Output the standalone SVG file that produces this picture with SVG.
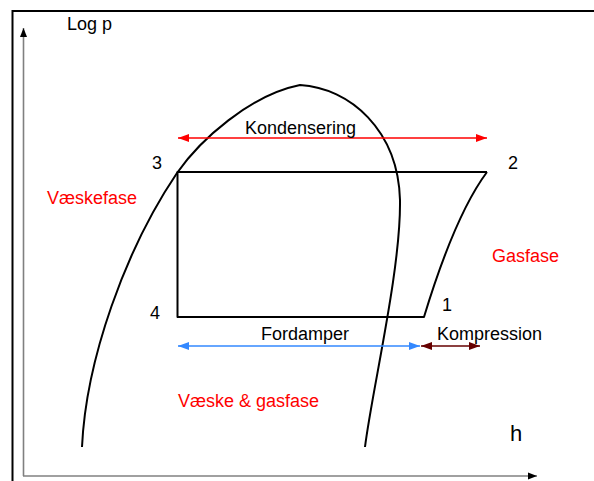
<svg xmlns="http://www.w3.org/2000/svg" width="594" height="481" viewBox="0 0 594 481">
<style>
text{font-family:"Liberation Sans",Arial,sans-serif;font-size:18px;fill:#000}
.red{fill:#ff0000}
.curve{fill:none;stroke:#000;stroke-width:2;stroke-linejoin:round}
.axis{stroke:#808080;stroke-width:1.6;fill:none}
</style>
<defs>
<marker id="ar" markerUnits="userSpaceOnUse" markerWidth="12" markerHeight="10" refX="11" refY="5" orient="auto-start-reverse"><path d="M0,1 L11,5 L0,9 Z" fill="#ff0000"/></marker>
<marker id="ab" markerUnits="userSpaceOnUse" markerWidth="12" markerHeight="10" refX="11" refY="5" orient="auto-start-reverse"><path d="M0,1 L11,5 L0,9 Z" fill="#3388ff"/></marker>
<marker id="am" markerUnits="userSpaceOnUse" markerWidth="12" markerHeight="10" refX="11" refY="5" orient="auto-start-reverse"><path d="M0,1 L11,5 L0,9 Z" fill="#660000"/></marker>
<marker id="ag" markerUnits="userSpaceOnUse" markerWidth="10" markerHeight="8" refX="9" refY="4" orient="auto"><path d="M0,0.5 L9,4 L0,7.5 Z" fill="#000"/></marker>
</defs>
<g id="frame">
<path d="M12.5,481 V11 H594" fill="none" stroke="#000" stroke-width="2"/>
</g>
<g id="axes">
<line class="axis" x1="23.5" y1="476" x2="23.5" y2="28" marker-end="url(#ag)"/>
<line class="axis" x1="23" y1="476" x2="537" y2="476" marker-end="url(#ag)"/>
<text x="67" y="30">Log p</text>
<text x="510" y="441" style="font-size:22px">h</text>
</g>
<g id="dome">
<path class="curve" d="M82,447 C86,360 125,250 177,173 C200,140 250,95 300,85 C350,88 398,130 400,200 C401,270 372,390 365,447"/>
</g>
<g id="cycle">
<path class="curve" d="M487,172 H177.5 V317 H424 Q455,215 487,172"/>
</g>
<g id="connectors">
<line x1="178" y1="138" x2="487" y2="138" stroke="#ff0000" stroke-width="1.5" marker-start="url(#ar)" marker-end="url(#ar)"/>
<line x1="178" y1="346" x2="420" y2="346" stroke="#3388ff" stroke-width="1.5" marker-start="url(#ab)" marker-end="url(#ab)"/>
<line x1="421" y1="346" x2="480" y2="346" stroke="#660000" stroke-width="1.5" marker-start="url(#am)" marker-end="url(#am)"/>
</g>
<g id="labels">
<text x="245" y="134">Kondensering</text>
<text x="152" y="169">3</text>
<text x="508" y="169">2</text>
<text x="150" y="319">4</text>
<text x="442" y="311">1</text>
<text x="261" y="340">Fordamper</text>
<text x="437" y="340">Kompression</text>
<text class="red" x="47" y="204">Væskefase</text>
<text class="red" x="492" y="262">Gasfase</text>
<text class="red" x="178" y="407">Væske &amp; gasfase</text>
</g>
</svg>
